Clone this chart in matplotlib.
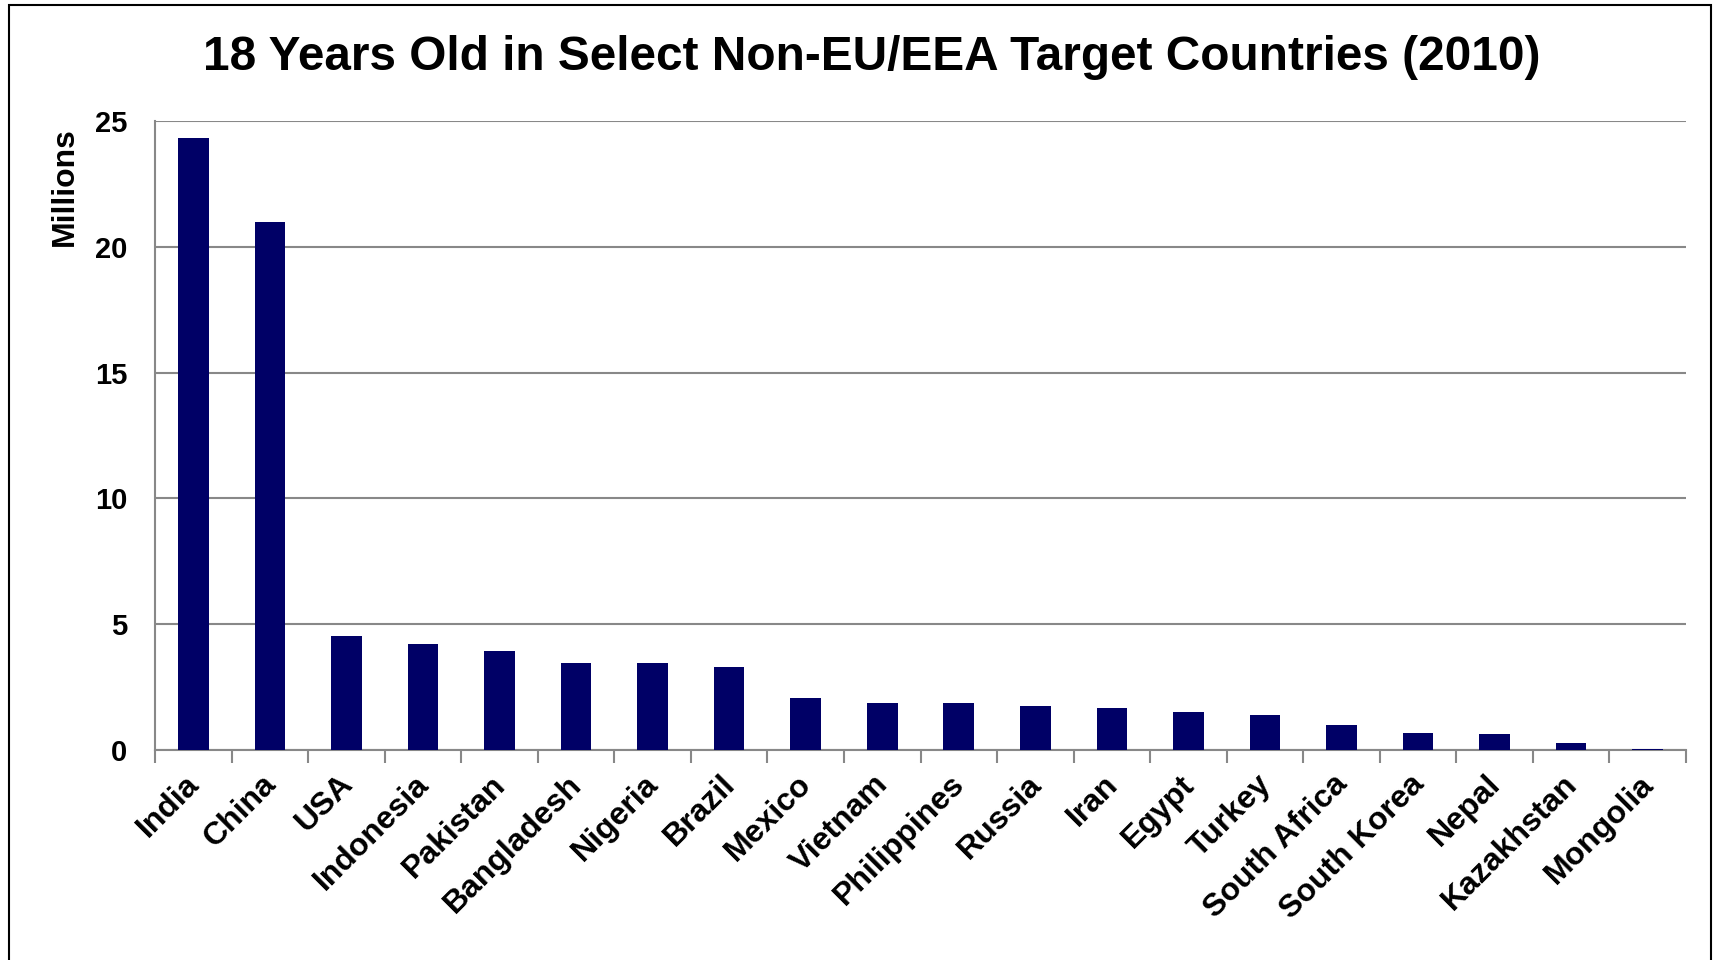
import matplotlib.pyplot as plt
from matplotlib.patches import Rectangle
from matplotlib.transforms import ScaledTranslation
import numpy as np

plt.rcParams['font.family'] = ['Liberation Sans', 'DejaVu Sans']
plt.rcParams['font.weight'] = 'bold'

countries = ['India', 'China', 'USA', 'Indonesia', 'Pakistan', 'Bangladesh',
             'Nigeria', 'Brazil', 'Mexico', 'Vietnam', 'Philippines', 'Russia',
             'Iran', 'Egypt', 'Turkey', 'South Africa', 'South Korea', 'Nepal',
             'Kazakhstan', 'Mongolia']
millions = [24.33, 20.98, 4.55, 4.22, 3.94, 3.47, 3.44, 3.30, 2.08, 1.87,
            1.87, 1.74, 1.67, 1.50, 1.38, 0.98, 0.68, 0.64, 0.27, 0.04]
yticks = [0, 5, 10, 15, 20, 25]

W, H = 1728, 960
fig = plt.figure(figsize=(W / 100, H / 100), dpi=100)
ax = fig.add_axes([155 / W, 1 - 750 / H, (1686 - 155) / W, (750 - 121) / H])

x = np.arange(len(countries))
ax.bar(x, millions, width=0.4, color='#000066', zorder=3)

ax.set_xlim(-0.5, len(countries) - 0.5)
ax.set_ylim(0, 25)
ax.set_yticks(yticks)
ax.set_yticklabels([str(v) for v in yticks], fontsize=21, fontweight='bold')
ax.tick_params(axis='y', length=0, pad=20)
ax.yaxis.grid(True, color='#888888', linewidth=1.5, zorder=0)

# category boundary ticks, labels at centres
ax.set_xticks(np.arange(len(countries) + 1) - 0.5)
ax.set_xticklabels([])
ax.tick_params(axis='x', which='major', length=9, width=1.5, color='#888888', direction='out')
ax.set_xticks(x, minor=True)
ax.set_xticklabels(countries, minor=True, rotation=45, ha='right', va='top',
                   rotation_mode='anchor', fontsize=23, fontweight='bold')
ax.tick_params(axis='x', which='minor', length=0, pad=14)
shift = ScaledTranslation(-9 / 100, 0, fig.dpi_scale_trans)
for lbl in ax.get_xticklabels(minor=True):
    lbl.set_transform(lbl.get_transform() + shift)

ax.spines['top'].set_visible(False)
ax.spines['right'].set_visible(False)
ax.spines['left'].set_color('#888888')
ax.spines['left'].set_linewidth(1.5)
ax.spines['bottom'].set_color('#888888')
ax.spines['bottom'].set_linewidth(1.5)

ax.set_ylabel('Millions', fontsize=23, fontweight='bold')
ax.yaxis.set_label_coords(-0.049, 0.895)

fig.text(0.5 * (202 + 1541) / W, 1 - 57 / H,
         '18 Years Old in Select Non-EU/EEA Target Countries (2010)',
         ha='center', va='center', fontsize=34.4, fontweight='bold')

# outer frame
fig.patches.append(Rectangle((9 / W, -0.05), (1711 - 9) / W, 1.05 - 5 / H,
                             transform=fig.transFigure, fill=False,
                             edgecolor='black', linewidth=1.5))

plt.savefig('out.png', dpi=100)
